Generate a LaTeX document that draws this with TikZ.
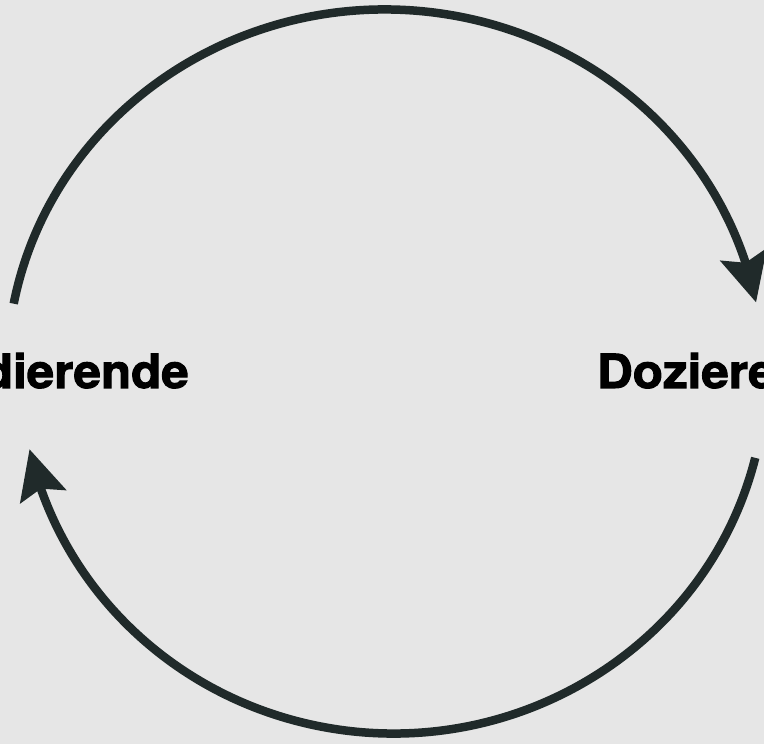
\documentclass[tikz,border=0pt]{standalone}
\usepackage{fontspec}
\setmainfont{TeX Gyre Heros}
\newfontfamily\rolefont{TeX Gyre Heros}[FakeBold=2.2,FakeStretch=1.05]
\usepackage{tikz}
\usetikzlibrary{arrows.meta,bending,calc}
\definecolor{cBack}{HTML}{E6E6E6}
\definecolor{cLoop}{HTML}{202A2A}
\tikzset{
  >={Stealth[length=49pt,width=47pt,inset=8pt]},
  role/.style={inner sep=0pt,font=\rolefont\fontsize{47}{52}\selectfont\bfseries},
  loop/.style={->,line width=8.5pt,cLoop},
}
\begin{document}
\begin{tikzpicture}[x=1pt,y=1pt]
  \useasboundingbox (0,0) rectangle (764,744);
  \fill[cBack] (0,0) rectangle (764,744);
  \clip (0,0) rectangle (764,744);
  \node[role,anchor=base east] (stud) at (189,356) {Studierende};
  \node[role,anchor=base west] (doz) at (597,356) {Dozierende};
  % the two halves of the cycle
  \coordinate (top) at ($(385,372.5)+(169.2:378 and 362)$);
  \coordinate (bot) at ($(393.4,372.5)+(-13.8:372.6 and 362)$);
  \draw[loop] (top) arc[start angle=169.2,end angle=11.0,x radius=378,y radius=362];
  \draw[loop] (bot) arc[start angle=-13.8,end angle=-167.6,x radius=372.6,y radius=362];
\end{tikzpicture}
\end{document}
